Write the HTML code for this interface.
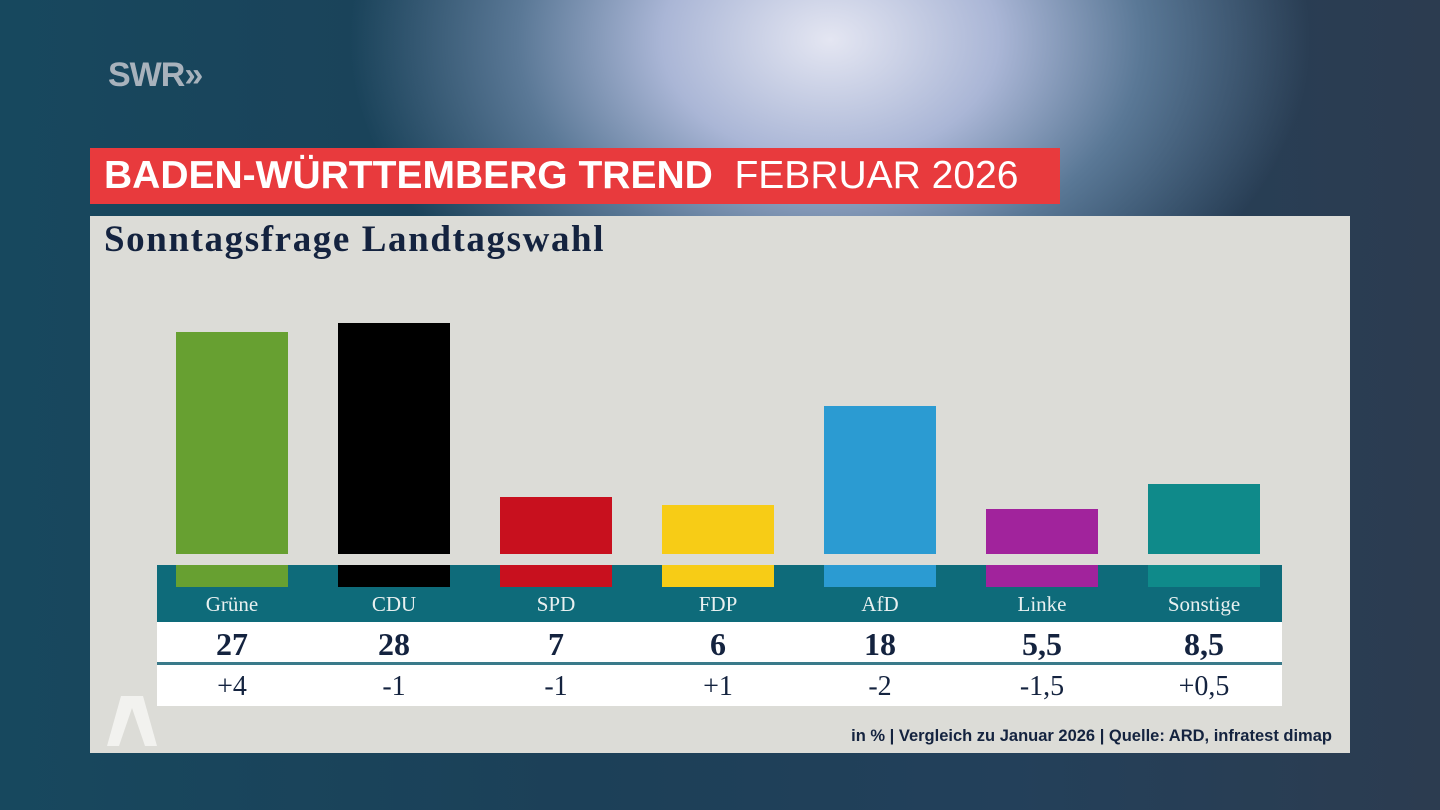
<!DOCTYPE html>
<html><head><meta charset="utf-8"><style>
*{margin:0;padding:0;box-sizing:border-box}
body{width:1440px;height:810px;overflow:hidden;position:relative;font-family:"Liberation Sans",sans-serif;
background:radial-gradient(ellipse 480px 340px at 830px 40px,#e4e6f2 0%,#aab6d6 35%,#5a7896 65%,rgba(30,60,85,0) 100%),linear-gradient(90deg,#17485e 0%,#1c4058 40%,#23405a 70%,#2c3c50 100%);}
.abs{position:absolute}
.panel{left:90px;top:216px;width:1260px;height:537px;background:#dcdcd7}
.banner{left:90px;top:148px;width:970px;height:56px;background:#e83a3d;color:#fff;font-size:39px;line-height:56px;padding-left:14px;white-space:nowrap}
.bar{position:absolute;width:112px}
.strip{left:157px;top:565px;width:1125px;height:57px;background:#0e6b7a}
.tbl{left:157px;top:622px;width:1125px;height:84px;background:#fff}
.lbl{position:absolute;width:162px;text-align:center;font-family:"Liberation Serif",serif}
</style></head><body>
<div class="abs" style="left:108px;top:56px;color:#a8b2bc;font-weight:bold;font-size:34px;letter-spacing:-1px">SWR<span>»</span></div>
<div class="abs panel"></div>
<div class="abs banner"><b>BADEN-WÜRTTEMBERG TREND</b>&nbsp; FEBRUAR 2026</div>
<div class="abs" style="left:104px;top:218px;font-family:'Liberation Serif',serif;font-weight:bold;font-size:37px;letter-spacing:1.6px;color:#14233f">Sonntagsfrage Landtagswahl</div>
<div class="abs strip"></div>
<div class="abs tbl"><div style="position:absolute;left:0;top:40px;width:100%;height:3px;background:#3a7a8a"></div></div>
<div class="bar" style="left:176px;top:332px;height:222px;background:#67a031"></div>
<div class="bar" style="left:338px;top:323px;height:231px;background:#000"></div>
<div class="bar" style="left:500px;top:497px;height:57px;background:#c8101e"></div>
<div class="bar" style="left:662px;top:505px;height:49px;background:#f7cc16"></div>
<div class="bar" style="left:824px;top:406px;height:148px;background:#2b9bd2"></div>
<div class="bar" style="left:986px;top:509px;height:45px;background:#a1239c"></div>
<div class="bar" style="left:1148px;top:484px;height:70px;background:#0f8a8a"></div>
<div class="bar" style="left:176px;top:565px;height:22px;background:#67a031"></div>
<div class="bar" style="left:338px;top:565px;height:22px;background:#000"></div>
<div class="bar" style="left:500px;top:565px;height:22px;background:#c8101e"></div>
<div class="bar" style="left:662px;top:565px;height:22px;background:#f7cc16"></div>
<div class="bar" style="left:824px;top:565px;height:22px;background:#2b9bd2"></div>
<div class="bar" style="left:986px;top:565px;height:22px;background:#a1239c"></div>
<div class="bar" style="left:1148px;top:565px;height:22px;background:#0f8a8a"></div>
<div class="abs" style="left:151px;top:592px;width:1125px;height:30px;color:#e8f0f0;font-size:21px">
<div class="lbl" style="left:0">Grüne</div><div class="lbl" style="left:162px">CDU</div><div class="lbl" style="left:324px">SPD</div><div class="lbl" style="left:486px">FDP</div><div class="lbl" style="left:648px">AfD</div><div class="lbl" style="left:810px">Linke</div><div class="lbl" style="left:972px">Sonstige</div></div>
<div class="abs" style="left:151px;top:626px;width:1125px;height:36px;color:#14233f;font-size:32px;font-weight:bold">
<div class="lbl" style="left:0">27</div><div class="lbl" style="left:162px">28</div><div class="lbl" style="left:324px">7</div><div class="lbl" style="left:486px">6</div><div class="lbl" style="left:648px">18</div><div class="lbl" style="left:810px">5,5</div><div class="lbl" style="left:972px">8,5</div></div>
<div class="abs" style="left:151px;top:671px;width:1125px;height:34px;color:#14233f;font-size:28px">
<div class="lbl" style="left:0">+4</div><div class="lbl" style="left:162px">-1</div><div class="lbl" style="left:324px">-1</div><div class="lbl" style="left:486px">+1</div><div class="lbl" style="left:648px">-2</div><div class="lbl" style="left:810px">-1,5</div><div class="lbl" style="left:972px">+0,5</div></div>
<svg class="abs" style="left:107px;top:696px" width="50" height="52"><polygon points="14,0 36,0 50,50 38,50 25,12 12,50 0,50" fill="#f2f2ef"/></svg>
<div class="abs" style="right:108px;top:727px;font-size:16.5px;font-weight:bold;color:#14233f">in % | Vergleich zu Januar 2026 | Quelle: ARD, infratest dimap</div>
</body></html>
